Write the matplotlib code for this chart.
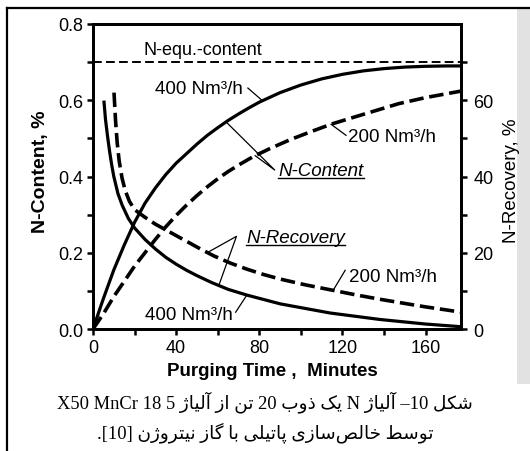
import numpy as np
from matplotlib import pyplot as plt
from matplotlib.lines import Line2D
from matplotlib.patches import Rectangle

plt.rcParams['font.family'] = ['Liberation Sans', 'DejaVu Sans']

# N-Content (%) gelesen aus der Abbildung
t_400 = [0, 5, 10, 15, 20, 25, 30, 35, 40, 45, 50, 55, 60, 65, 70, 75, 80, 90, 100, 110, 120, 130, 140, 150, 160, 170, 177]
nc_400 = [0, 0.08, 0.155, 0.22, 0.28, 0.33, 0.37, 0.405, 0.435, 0.46, 0.485, 0.508, 0.528, 0.547, 0.564, 0.58, 0.595,
          0.62, 0.64, 0.656, 0.668, 0.677, 0.683, 0.687, 0.689, 0.69, 0.69]
t_200 = [0, 5, 10, 15, 20, 25, 30, 35, 40, 45, 50, 55, 60, 65, 70, 77, 85, 95, 105, 115, 130, 147, 160, 170, 177]
nc_200 = [0, 0.04, 0.085, 0.125, 0.165, 0.2, 0.235, 0.268, 0.298, 0.325, 0.35, 0.373, 0.394, 0.413, 0.43, 0.452,
          0.473, 0.497, 0.518, 0.538, 0.563, 0.591, 0.607, 0.617, 0.624]
n_equ = 0.70

# N-Recovery (%)
tr_400 = [5.3, 6, 7, 8, 9, 10, 12, 14, 17, 20, 25, 30, 35, 40, 45, 50, 57, 65, 74, 90, 114, 138, 160, 177]
rec_400 = [59.5, 55, 50.5, 46.5, 43, 40, 35.5, 32.5, 29, 26.5, 23.5, 21, 18.8, 17, 15.4, 14, 12.2, 10.4, 8.9, 6.6,
           4.2, 2.5, 1.3, 0.6]
tr_200 = [10.1, 10.8, 11.6, 12.6, 14, 15.5, 17.5, 20, 25, 30, 35, 40, 46, 52, 58, 66, 74, 82, 90, 102, 114, 126,
          138, 150, 160, 170, 177]
rec_200 = [62, 55, 49, 44, 39.5, 36.3, 33.5, 31.3, 29.3, 27.5, 26, 24.5, 22.7, 20.9, 19.2, 17.3, 15.7, 14.3, 13.1,
           11.6, 10.3, 9.0, 7.8, 6.7, 5.8, 5.0, 4.4]

# Persische Beschriftung: Präsentationsformen (isol, fin, init, med)
FORMS = {
    'ا': ('\uFE8D', '\uFE8E'), 'آ': ('\uFE81', '\uFE82'),
    'ب': ('\uFE8F', '\uFE90', '\uFE91', '\uFE92'), 'پ': ('\uFB56', '\uFB57', '\uFB58', '\uFB59'),
    'ت': ('\uFE95', '\uFE96', '\uFE97', '\uFE98'), 'خ': ('\uFEA5', '\uFEA6', '\uFEA7', '\uFEA8'),
    'ذ': ('\uFEAB', '\uFEAC'), 'ر': ('\uFEAD', '\uFEAE'), 'ز': ('\uFEAF', '\uFEB0'),
    'ژ': ('\uFB8A', '\uFB8B'), 'س': ('\uFEB1', '\uFEB2', '\uFEB3', '\uFEB4'),
    'ش': ('\uFEB5', '\uFEB6', '\uFEB7', '\uFEB8'), 'ص': ('\uFEB9', '\uFEBA', '\uFEBB', '\uFEBC'),
    'ط': ('\uFEC1', '\uFEC2', '\uFEC3', '\uFEC4'), 'ک': ('\uFB8E', '\uFB8F', '\uFB90', '\uFB91'),
    'گ': ('\uFB92', '\uFB93', '\uFB94', '\uFB95'), 'ل': ('\uFEDD', '\uFEDE', '\uFEDF', '\uFEE0'),
    'ن': ('\uFEE5', '\uFEE6', '\uFEE7', '\uFEE8'), 'و': ('\uFEED', '\uFEEE'),
    'ی': ('\uFBFC', '\uFBFD', '\uFBFE', '\uFBFF'),
}


def fa(word):
    out = []
    for i, c in enumerate(word):
        if c not in FORMS:
            continue
        f = FORMS[c]
        prev = word[i - 1] if i > 0 else None
        nxt = word[i + 1] if i + 1 < len(word) else None
        jp = prev in FORMS and len(FORMS[prev]) == 4
        jn = nxt in FORMS and len(f) == 4
        if jp and jn:
            out.append(f[3])
        elif jp:
            out.append(f[1])
        elif jn:
            out.append(f[2])
        else:
            out.append(f[0])
    return ''.join(reversed(out))


caption_1 = ' '.join(['X50 MnCr 18 5', fa('آلیاژ'), fa('از'), fa('تن'), '20', fa('ذوب'),
                      fa('یک'), 'N', fa('آلیاژ'), '–10', fa('شکل')])
caption_2 = ' '.join(['.[10]', fa('نیتروژن'), fa('گاز'), fa('با'), fa('پاتیلی'),
                      fa('خالص\u200cسازی'), fa('توسط')])

fig = plt.figure(figsize=(5.3, 4.52), dpi=100)

# grauer Rand des Scans rechts
fig.add_artist(Rectangle((517 / 530, 1 - 385 / 452), 13 / 530, 376 / 452, transform=fig.transFigure,
                         facecolor='#e2e2e2', edgecolor='none', zorder=0))

ax = fig.add_axes([0.1755, 0.2699, 0.6943, 0.6748])
ax2 = ax.twinx()

lw = 2.3
ax.plot(t_400, nc_400, color='k', lw=lw)
ax.plot(t_200, nc_200, color='k', lw=2.6, dashes=(4, 1.6))
ax.plot([0, 177], [n_equ, n_equ], color='k', lw=1.4, dashes=(4.5, 2.2))
ax2.plot(tr_400, rec_400, color='k', lw=lw)
ax2.plot(tr_200, rec_200, color='k', lw=2.6, dashes=(4, 1.6))

ax.set_xlim(0, 177)
ax.set_ylim(0, 0.8)
ax2.set_ylim(0, 80)
ax.set_xticks([0, 40, 80, 120, 160])
ax.set_xticks(np.arange(20, 180, 40), minor=True)
ax.set_yticks([0, 0.2, 0.4, 0.6, 0.8])
ax.set_yticklabels(['0.0', '0.2', '0.4', '0.6', '0.8'])
ax.set_yticks([0.1, 0.3, 0.5, 0.7], minor=True)
ax2.set_yticks([0, 20, 40, 60])
ax2.set_yticks([10, 30, 50, 70], minor=True)

for a in (ax, ax2):
    for s in a.spines.values():
        s.set_linewidth(2.0)
    a.tick_params(which='both', direction='out', length=4, width=1.8, labelsize=13, pad=3)
    a.tick_params(which='minor', labelleft=False, labelright=False)
ax2.tick_params(axis='y', pad=5)
ax.tick_params(axis='x', pad=3)

# Beschriftungen im Diagramm
fs = 13.5
ax.text(52.7, 0.734, 'N-equ.-content', fontsize=13, ha='center', va='center')

ax.text(51, 0.63, '400 Nm³/h', fontsize=fs, ha='center', va='center')
ax.plot([74.5, 81.5], [0.632, np.interp(81.5, t_400, nc_400)], color='k', lw=0.9)

t_nc = ax.text(109.7, 0.415, 'N-Content', fontsize=fs, style='italic', ha='center', va='center')
ax.plot([64, 87.4, 78], [np.interp(64, t_400, nc_400), 0.417, np.interp(78, t_200, nc_200)], color='k', lw=0.9)

ax.text(144, 0.504, '200 Nm³/h', fontsize=fs, ha='center', va='center')
ax.plot([121.7, 114.5], [0.508, np.interp(114.5, t_200, nc_200)], color='k', lw=0.9)

t_nr = ax2.text(97.5, 24, 'N-Recovery', fontsize=fs, style='italic', ha='center', va='center')
ax2.plot([55, 69, 60.5], [np.interp(55, tr_200, rec_200), 24.3, np.interp(60.5, tr_400, rec_400)], color='k', lw=0.9)

ax2.text(144.5, 13.9, '200 Nm³/h', fontsize=fs, ha='center', va='center')
ax2.plot([121.3, 115.5], [15.4, np.interp(115.5, tr_200, rec_200)], color='k', lw=0.9)

ax2.text(46, 3.9, '400 Nm³/h', fontsize=fs, ha='center', va='center')
ax2.plot([68.6, 74], [4.4, np.interp(74, tr_400, rec_400)], color='k', lw=0.9)

# Achsentitel
fig.text(40 / 530, 1 - 172 / 452, 'N-Content, %', fontsize=14, fontweight='bold',
         rotation=90, ha='center', va='center')
fig.text(511 / 530, 1 - 181 / 452, 'N-Recovery, %', fontsize=13.5,
         rotation=90, ha='center', va='center')
fig.text(272 / 530, 1 - 372 / 452, 'Purging Time ,  Minutes', fontsize=13.5,
         fontweight='bold', ha='center', va='center')

# Bildunterschrift
cap_font = ['Liberation Serif', 'DejaVu Sans']
fig.text(265 / 530, 1 - 402 / 452, caption_1, fontsize=13.3, family=cap_font, ha='center', va='center')
fig.text(265 / 530, 1 - 433 / 452, caption_2, fontsize=13.3, family=cap_font, ha='center', va='center')

# Rahmen
fig.add_artist(Line2D([7 / 530, 7 / 530], [0, 1 - 9 / 452], transform=fig.transFigure, color='k', lw=1.6))
fig.add_artist(Line2D([7 / 530, 1], [1 - 9 / 452, 1 - 9 / 452], transform=fig.transFigure, color='k', lw=1.6))

# Unterstreichungen
fig.canvas.draw()
r = fig.canvas.get_renderer()
W, H = fig.bbox.width, fig.bbox.height
for t in (t_nc, t_nr):
    bb = t.get_window_extent(r)
    fig.add_artist(Line2D([bb.x0 / W, bb.x1 / W], [(bb.y0 + 1) / H, (bb.y0 + 1) / H],
                          transform=fig.transFigure, color='k', lw=1.0))

plt.savefig('out.png', dpi=100)
